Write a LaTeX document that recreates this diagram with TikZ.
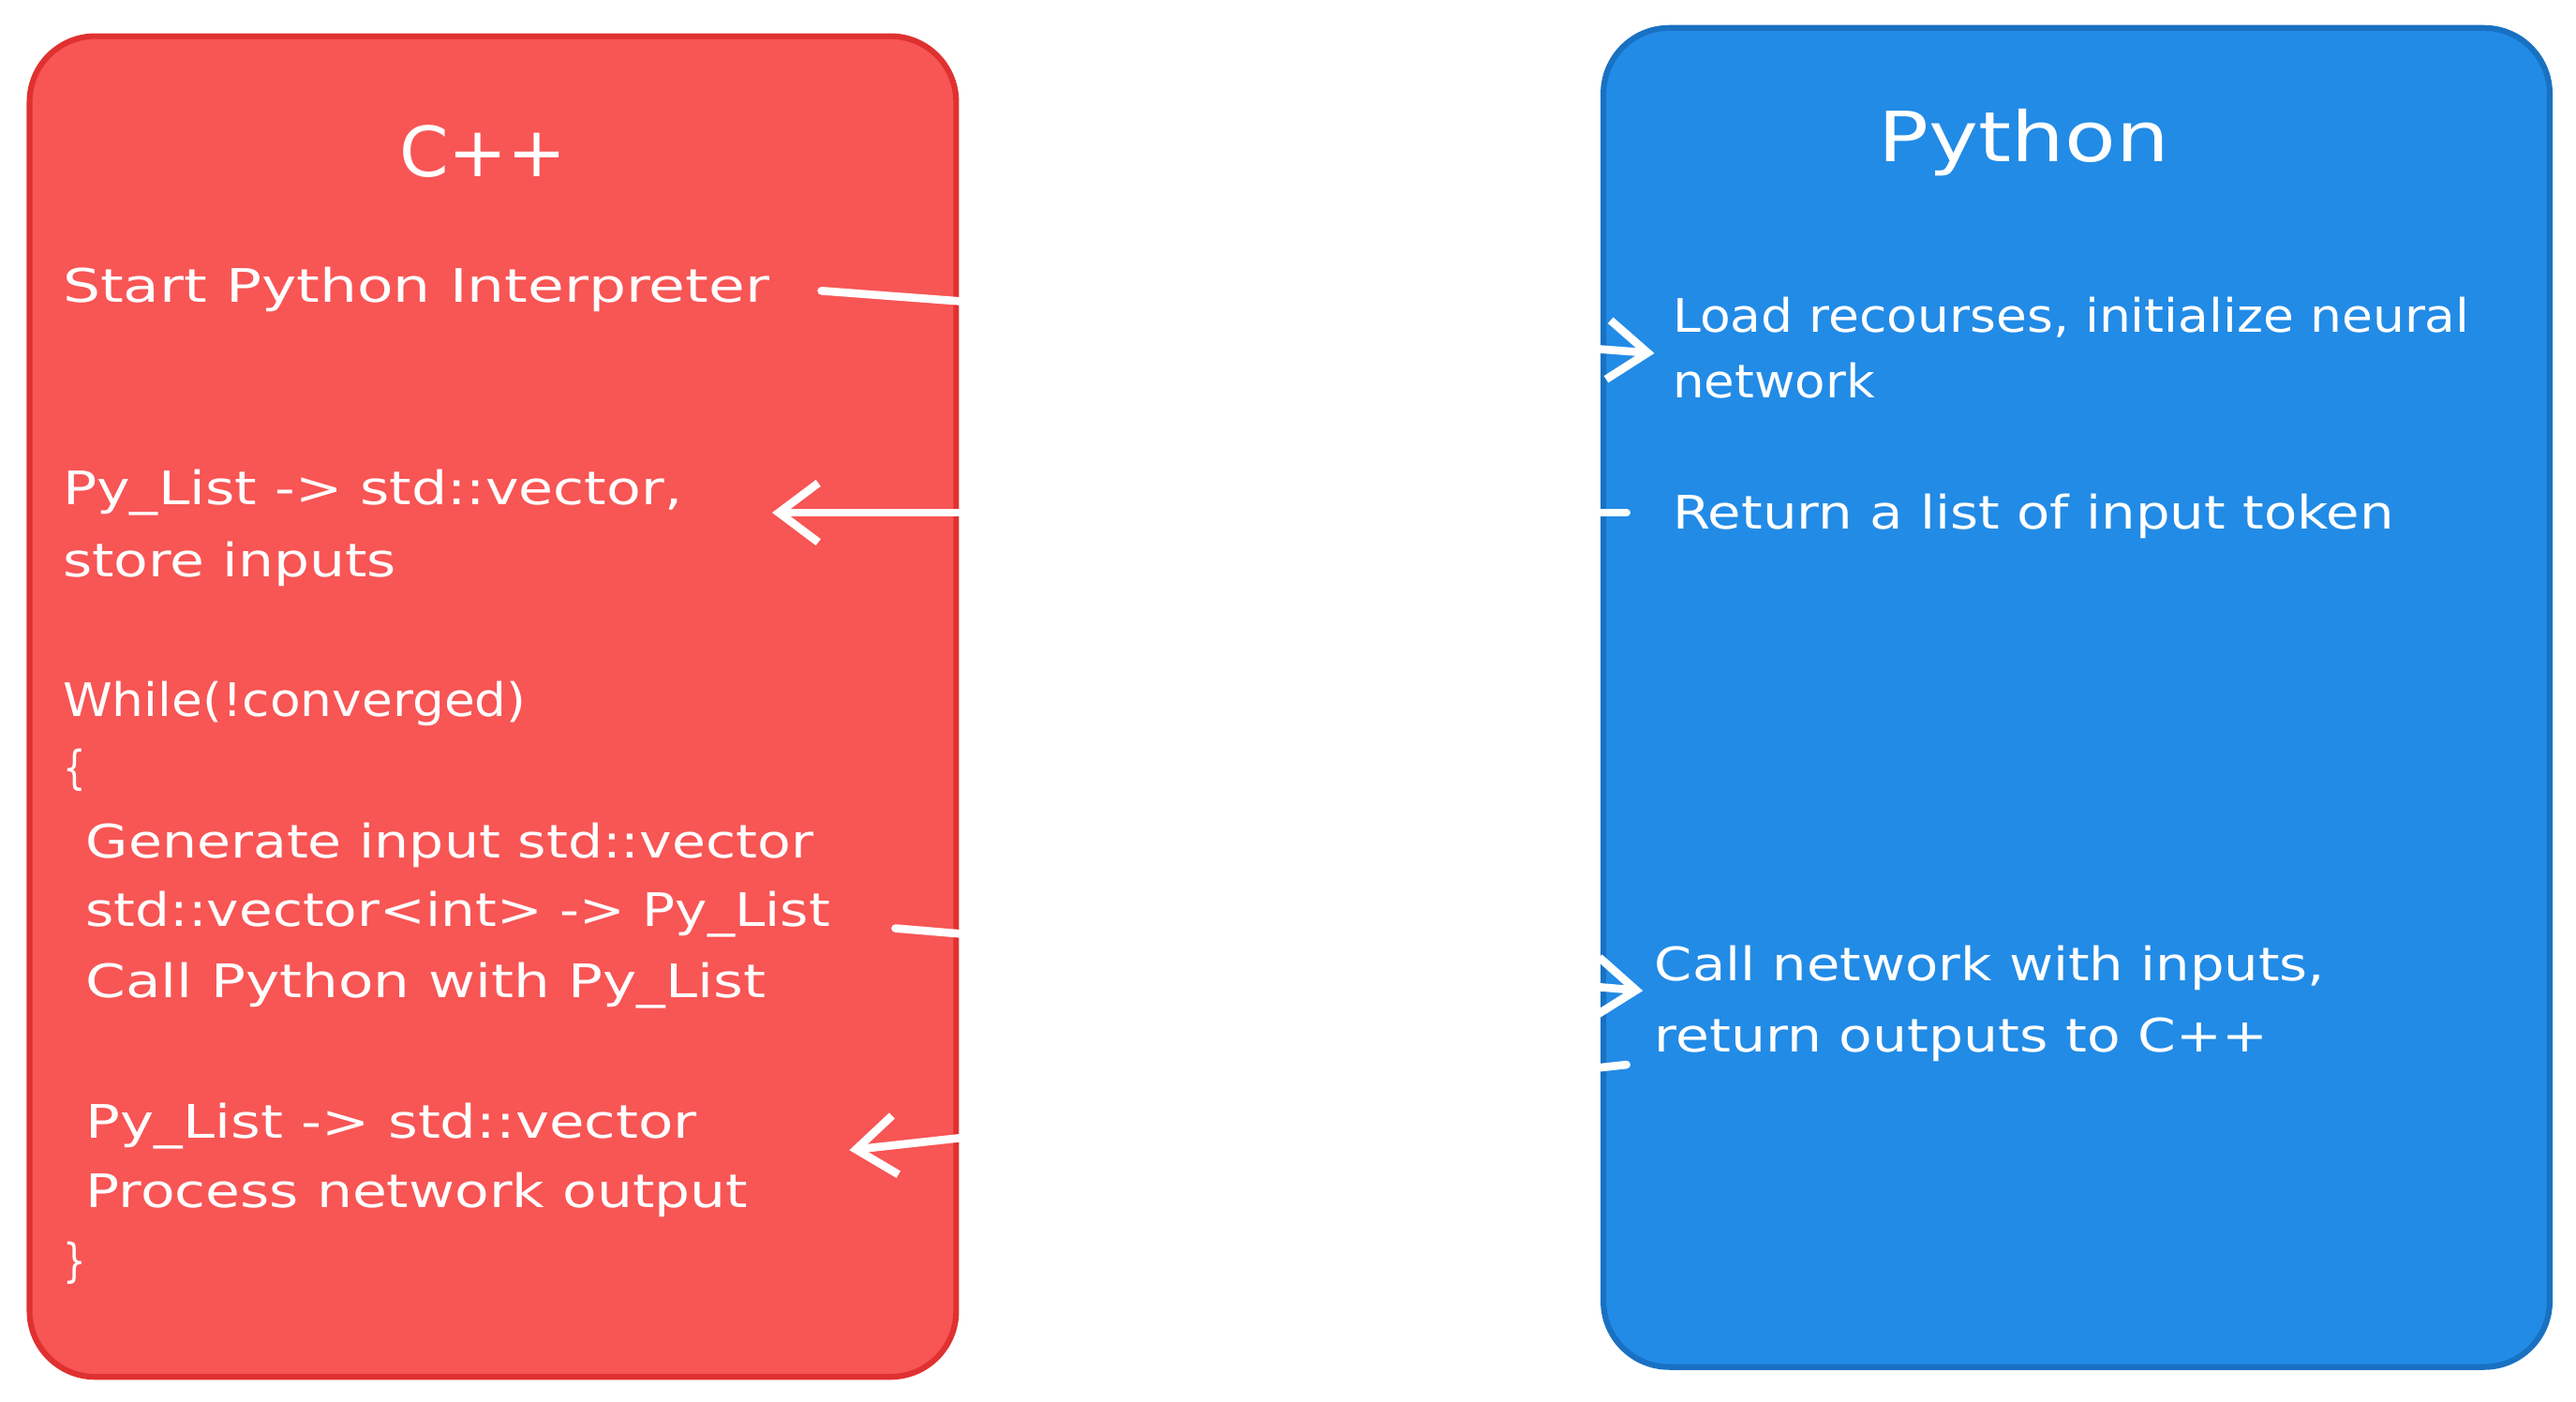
\documentclass[tikz,border=0pt]{standalone}
\usepackage{fontspec}
\setmainfont{DejaVu Sans}
\usetikzlibrary{arrows.meta}
\definecolor{redfill}{HTML}{F85555}
\definecolor{redline}{HTML}{E03131}
\definecolor{bluefill}{HTML}{228BE6}
\definecolor{blueline}{HTML}{1971C2}
\newcommand{\fitw}[2]{\resizebox{#1\dimexpr0.25mm\relax}{\height}{#2}}
\begin{document}
\begin{tikzpicture}[x=0.25mm,y=-0.25mm,
  box/.style={line width=2.5pt,rounded corners=10mm},
  t/.style={anchor=base west,text=white,font=\fontsize{20}{24}\selectfont,inner sep=0},
  title/.style={text=white,font=\fontsize{30}{36}\selectfont},
  conn/.style={draw=white,line width=3.5pt,line cap=round,-{Straight Barb[length=6mm,width=9mm]}}]
\useasboundingbox (0,0) rectangle (1568,853);
\draw[box,fill=redfill,draw=redline] (18,22) rectangle (582,838);
\draw[box,fill=bluefill,draw=blueline] (976,17) rectangle (1552,832);
\node[title] (cpp) at (294,92) {\fitw{102}{C++}};
\node[title] (py) at (1232,87) {\fitw{177}{Python}};
\node[t] (l1) at (38,184) {\fitw{430}{Start Python Interpreter}};
\node[t] (l2) at (38,307) {\fitw{377}{Py\_List -> std::vector,}};
\node[t] (l3) at (38,351) {\fitw{203}{store inputs}};
\node[t] (l4) at (38,436) {\fitw{282}{While(!converged)}};
\node[t] (l5) at (38,477) {\fitw{14}{\{}};
\node[t] (l6) at (52,522) {\fitw{443}{Generate input std::vector}};
\node[t] (l7) at (52,564) {\fitw{453}{std::vector<int> -> Py\_List}};
\node[t] (l8) at (52,607) {\fitw{414}{Call Python with Py\_List}};
\node[t] (l9) at (52,693) {\fitw{372}{Py\_List -> std::vector}};
\node[t] (l10) at (52,735) {\fitw{403}{Process network output}};
\node[t] (l11) at (38,777) {\fitw{14}{\}}};
\node[t] (r1) at (1018,202) {\fitw{485}{Load recourses, initialize neural}};
\node[t] (r2) at (1018,242) {\fitw{123}{network}};
\node[t] (r3) at (1018,322) {\fitw{439}{Return a list of input token}};
\node[t] (r4) at (1007,597) {\fitw{408}{Call network with inputs,}};
\node[t] (r5) at (1007,640) {\fitw{373}{return outputs to C++}};
\coordinate (a1s) at (500,177); \coordinate (a1e) at (1007,215);
\coordinate (a2s) at (990,312); \coordinate (a2e) at (470,312);
\coordinate (a3s) at (545,565); \coordinate (a3e) at (1000,603);
\coordinate (a4s) at (990,648); \coordinate (a4e) at (517,700);
\draw[conn] (a1s) -- (a1e);
\draw[conn] (a2s) -- (a2e);
\draw[conn] (a3s) -- (a3e);
\draw[conn] (a4s) -- (a4e);
\end{tikzpicture}
\end{document}
